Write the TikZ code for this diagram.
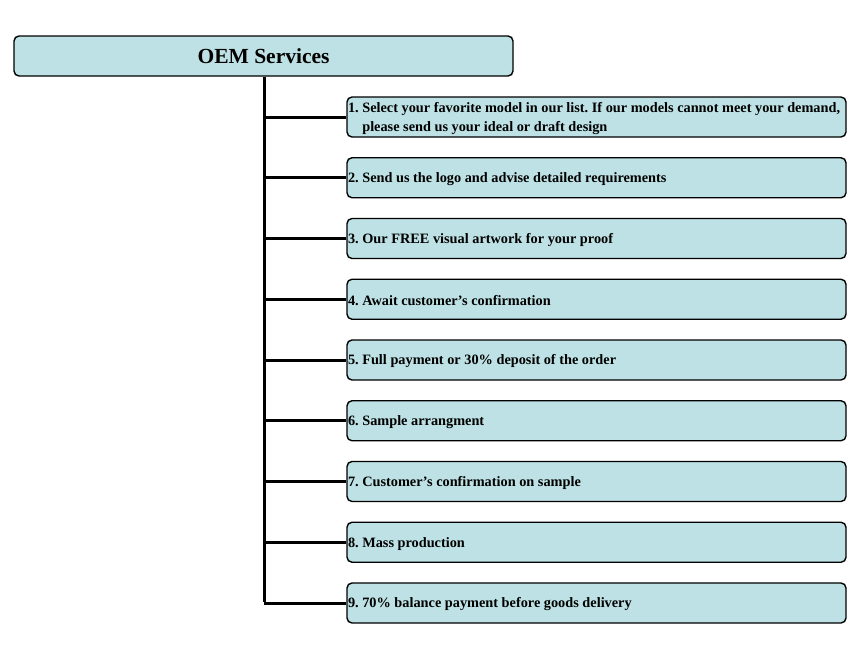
\documentclass[tikz,border=0pt]{standalone}
\usepackage{fontspec}
\setmainfont{Liberation Serif}
\frenchspacing
\begin{document}
\begin{tikzpicture}[x=1pt,y=-1pt,
  box/.style={draw=black, line width=1.4pt, fill=boxfill, rounded corners=5pt},
  itemtxt/.style={anchor=west, font=\bfseries\fontsize{14.3}{18.5}\selectfont, inner sep=0pt, align=left},
  conn/.style={line width=3pt}]
\definecolor{boxfill}{HTML}{BDE1E4}
\useasboundingbox (0,0) rectangle (860,645);
\node[box, minimum width=499pt, minimum height=40pt, font=\bfseries\fontsize{21.5}{24}\selectfont] (title) at (263.5,56) {OEM Services};
\coordinate (top) at (264,76);
\foreach \i/\t in {1/{1. Select your favorite model in our list. If our models cannot meet your demand,\\\phantom{1. }please send us your ideal or draft design},
  2/{2. Send us the logo and advise detailed requirements},
  3/{3. Our FREE visual artwork for your proof},
  4/{4. Await customer’s confirmation},
  5/{5. Full payment or 30\% deposit of the order},
  6/{6. Sample arrangment},
  7/{7. Customer’s confirmation on sample},
  8/{8. Mass production},
  9/{9. 70\% balance payment before goods delivery}}{
  \pgfmathsetmacro{\yy}{117+60.75*(\i-1)}
  \node[box, minimum width=499pt, minimum height=40pt] (b\i) at (596.5,\yy) {};
  \node[itemtxt] (t\i) at ([xshift=1.5pt,yshift=-1.5pt]b\i.west) {\t};
  \coordinate (j\i) at (264,\yy);
  \draw[conn] (j\i) -- (b\i.west);
}
\draw[conn] (title.south -| top) -- ([yshift=1.5pt]j9);
\end{tikzpicture}
\end{document}
